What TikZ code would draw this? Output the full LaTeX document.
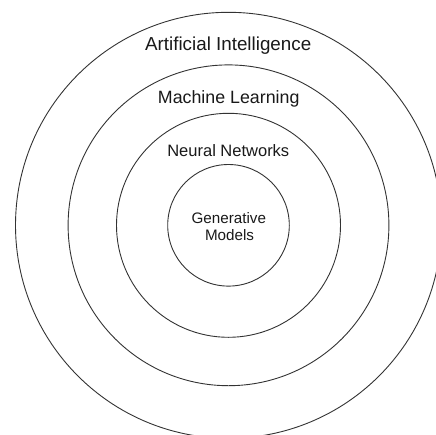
\documentclass[tikz,border=0pt]{standalone}
\usepackage{fontspec}
\setmainfont{Liberation Sans}
\begin{document}
\begin{tikzpicture}[x=1pt,y=-1pt,
  ring/.style={draw=black!80, line width=0.9pt, circle, inner sep=0pt},
  lbl/.style={text=black!90, inner sep=0pt, anchor=base}]
\useasboundingbox (0,0) rectangle (436,434);
\coordinate (c) at (228.5,225.3);
\begin{scope}
\clip (0,0) rectangle (436,434);
\node[ring, minimum size=426pt] (ai) at (c) {};
\node[ring, minimum size=320.8pt] (ml) at (c) {};
\node[ring, minimum size=224pt] (nn) at (c) {};
\node[ring, minimum size=121.6pt] (gm) at (c) {};
\end{scope}
\node[lbl, font=\fontsize{18.8}{22}\selectfont] (tai) at (228.2,50.7) {Artificial Intelligence};
\node[lbl, font=\fontsize{17.8}{21}\selectfont] (tml) at (228.7,103.3) {Machine Learning};
\node[lbl, font=\fontsize{16.5}{20}\selectfont] (tnn) at (228.3,156) {Neural Networks};
\node[lbl, font=\fontsize{15.2}{18}\selectfont] (tg1) at (228.8,223.3) {Generative};
\node[lbl, font=\fontsize{15.2}{18}\selectfont] (tg2) at (229.5,240) {Models};
\end{tikzpicture}
\end{document}
